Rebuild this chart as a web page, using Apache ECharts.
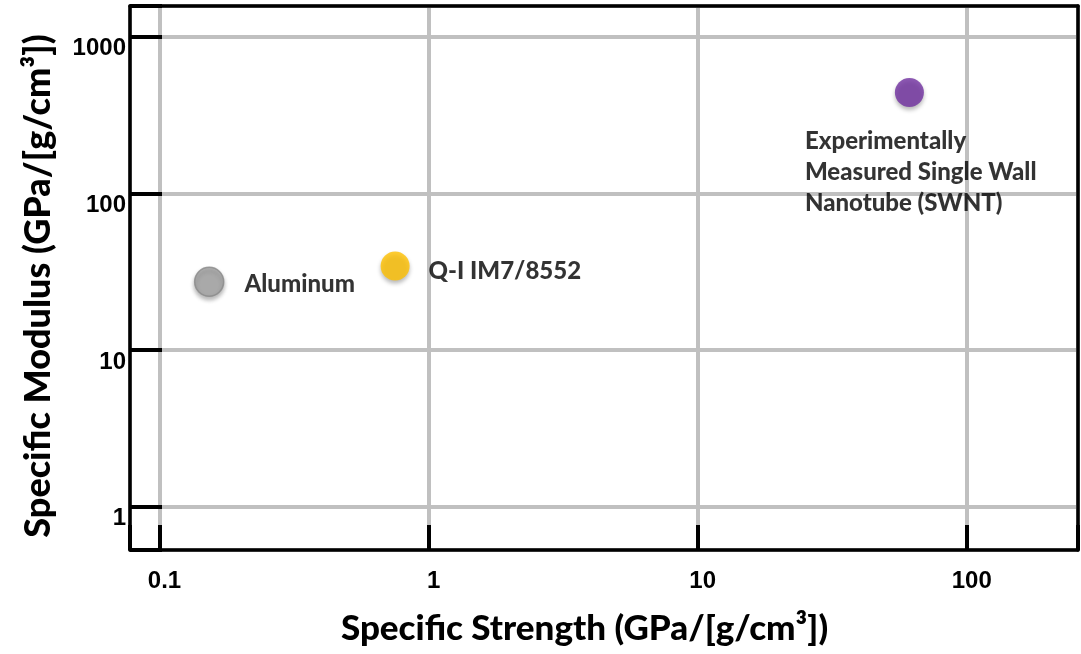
<!DOCTYPE html>
<html>
<head>
<meta charset="utf-8">
<script src="https://cdn.jsdelivr.net/npm/echarts@6/dist/echarts.min.js"></script>
<style>
html,body{margin:0;padding:0;background:#fff;}
#chart{width:1081px;height:654px;}
</style>
</head>
<body>
<div id="chart"></div>
<script>
// ---- data ----
const materials = ['Aluminum', 'Q-I IM7/8552', 'Experimentally\nMeasured Single Wall\nNanotube (SWNT)'];
const specificStrength = [0.153, 0.751, 61.2];   // GPa/[g/cm3]
const specificModulus  = [27.3, 34.4, 441];      // GPa/[g/cm3]
const pointColors = ['#A5A5A5', '#FFC000', '#7030A0'];
const xTickValues = [0.1, 1, 10, 100];
const xTickLabels = ['0.1', '1', '10', '100'];
const yTickValues = [1, 10, 100, 1000];
const yTickLabels = ['1', '10', '100', '1000'];
const xMin = 0.0777, xMax = 259;
const yMin = 0.530, yMax = 1570;

function tickLabel(values, labels) {
  return function (v) {
    for (let i = 0; i < values.length; i++) {
      if (Math.abs(Math.log10(v) - Math.log10(values[i])) < 1e-6) return labels[i];
    }
    return '';
  };
}

const labelStyles = [
  { show: true, position: 'right', distance: 20, offset: [0, 3] },
  { show: true, position: 'right', distance: 19, offset: [0, 5] },
  { show: true, position: [-90, 48], align: 'left', verticalAlign: 'top', lineHeight: 31 }
];

const seriesData = materials.map((name, i) => ({
  name: name,
  value: [specificStrength[i], specificModulus[i]],
  itemStyle: {
    color: pointColors[i],
    borderColor: i === 0 ? '#8a8a8a' : pointColors[i],
    borderWidth: i === 0 ? 1.5 : 0
  },
  label: Object.assign({
    formatter: name,
    fontFamily: 'Lato',
    fontWeight: 900,
    fontSize: 24,
    color: '#000'
  }, labelStyles[i])
}));

const frameAxis = {
  type: 'value', min: 0, max: 1, z: 10,
  axisLine: { show: true, onZero: false, lineStyle: { color: '#000', width: 3.5 } },
  axisTick: { show: false }, axisLabel: { show: false }, splitLine: { show: false }
};

const chart = echarts.init(document.getElementById('chart'), null, { renderer: 'canvas' });
chart.setOption({
  animation: false,
  backgroundColor: '#ffffff',
  grid: { left: 130, right: 3, top: 6, bottom: 104, show: false },
  xAxis: [{
    type: 'log', logBase: 10, min: xMin, max: xMax,
    name: 'Specific Strength (GPa/[g/cm³])',
    nameLocation: 'middle', nameGap: 61,
    nameTextStyle: { fontFamily: 'Lato', fontWeight: 900, fontSize: 35, color: '#000', padding: [0, 39, 0, 0] },
    axisLine: { show: true, onZero: false, lineStyle: { color: '#000', width: 3.5 } },
    axisTick: { show: true, inside: true, length: 25, lineStyle: { color: '#000', width: 4 } },
    axisLabel: {
      show: true, margin: 19, formatter: tickLabel(xTickValues, xTickLabels),
      fontFamily: 'Liberation Sans', fontWeight: 'bold', fontSize: 24, color: '#000',
      padding: [0, 0, 0, 10], showMinLabel: true, showMaxLabel: true
    },
    splitLine: { show: true, lineStyle: { color: '#c0c0c0', width: 4 } },
    minorTick: { show: false }
  }, Object.assign({ position: 'top' }, frameAxis)],
  yAxis: [{
    type: 'log', logBase: 10, min: yMin, max: yMax,
    name: 'Specific Modulus (GPa/[g/cm³])',
    nameLocation: 'middle', nameGap: 74, nameRotate: 90,
    nameTextStyle: { fontFamily: 'Lato', fontWeight: 900, fontSize: 36, color: '#000', padding: [0, 16, 0, 0] },
    axisLine: { show: true, onZero: false, lineStyle: { color: '#000', width: 3.5 } },
    axisTick: { show: true, inside: true, length: 32, lineStyle: { color: '#000', width: 4 } },
    axisLabel: {
      show: true, margin: 4, formatter: tickLabel(yTickValues, yTickLabels),
      fontFamily: 'Liberation Sans', fontWeight: 'bold', fontSize: 24, color: '#000',
      verticalAlign: 'top'
    },
    splitLine: { show: true, lineStyle: { color: '#c0c0c0', width: 4 } },
    minorTick: { show: false }
  }, Object.assign({ position: 'right' }, frameAxis)],
  series: [{
    type: 'scatter',
    symbol: 'circle',
    symbolSize: 29,
    itemStyle: { shadowBlur: 4, shadowColor: 'rgba(0,0,0,0.35)', shadowOffsetY: 3 },
    data: seriesData
  }]
});
</script>
</body>
</html>
